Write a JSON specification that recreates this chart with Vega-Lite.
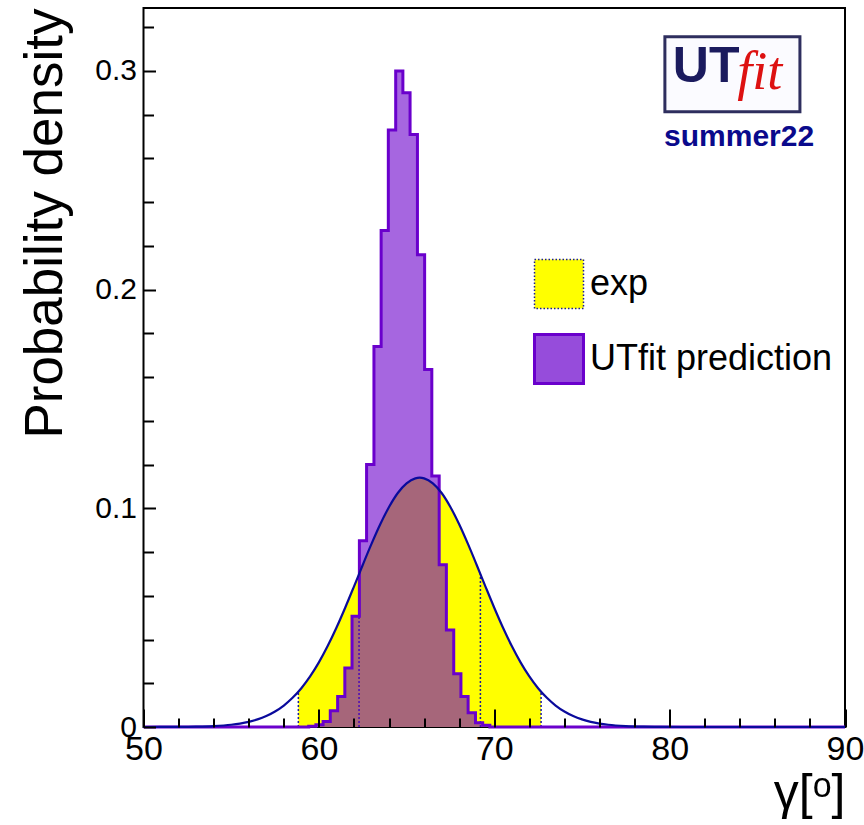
{
  "$schema": "https://vega.github.io/schema/vega-lite/v6.json",
  "width": 701.5,
  "height": 719,
  "autosize": {"type": "none"},
  "padding": {"left": 143.5, "top": 8, "right": 19, "bottom": 98},
  "background": "white",
  "config": {"view": {"stroke": "#000", "strokeWidth": 2}, "font": "Liberation Sans"},
  "datasets": {
    "hist": [
      {"x": 50, "y": 0, "series": "UTfit prediction"},
      {"x": 59.42, "y": 0.0004, "series": "UTfit prediction"},
      {"x": 59.83, "y": 0.001, "series": "UTfit prediction"},
      {"x": 60.24, "y": 0.0025, "series": "UTfit prediction"},
      {"x": 60.65, "y": 0.0074, "series": "UTfit prediction"},
      {"x": 61.07, "y": 0.014, "series": "UTfit prediction"},
      {"x": 61.48, "y": 0.027, "series": "UTfit prediction"},
      {"x": 61.89, "y": 0.0506, "series": "UTfit prediction"},
      {"x": 62.31, "y": 0.0852, "series": "UTfit prediction"},
      {"x": 62.72, "y": 0.12, "series": "UTfit prediction"},
      {"x": 63.14, "y": 0.174, "series": "UTfit prediction"},
      {"x": 63.55, "y": 0.227, "series": "UTfit prediction"},
      {"x": 63.96, "y": 0.273, "series": "UTfit prediction"},
      {"x": 64.38, "y": 0.3, "series": "UTfit prediction"},
      {"x": 64.79, "y": 0.29, "series": "UTfit prediction"},
      {"x": 65.2, "y": 0.271, "series": "UTfit prediction"},
      {"x": 65.62, "y": 0.216, "series": "UTfit prediction"},
      {"x": 66.03, "y": 0.1635, "series": "UTfit prediction"},
      {"x": 66.44, "y": 0.1148, "series": "UTfit prediction"},
      {"x": 66.86, "y": 0.0742, "series": "UTfit prediction"},
      {"x": 67.27, "y": 0.0444, "series": "UTfit prediction"},
      {"x": 67.69, "y": 0.0243, "series": "UTfit prediction"},
      {"x": 68.1, "y": 0.014, "series": "UTfit prediction"},
      {"x": 68.51, "y": 0.0065, "series": "UTfit prediction"},
      {"x": 68.93, "y": 0.002, "series": "UTfit prediction"},
      {"x": 69.34, "y": 0.0008, "series": "UTfit prediction"},
      {"x": 69.75, "y": 0, "series": "UTfit prediction"},
      {"x": 90, "y": 0, "series": "UTfit prediction"}
    ],
    "gauss": [
      {"x": 50, "y": 0}, {"x": 52, "y": 0.00005}, {"x": 53, "y": 0.00015}, {"x": 54, "y": 0.00041},
      {"x": 55, "y": 0.00102}, {"x": 55.5, "y": 0.00157}, {"x": 56, "y": 0.00235}, {"x": 56.5, "y": 0.00347},
      {"x": 57, "y": 0.00501}, {"x": 57.5, "y": 0.00709}, {"x": 58, "y": 0.00982}, {"x": 58.5, "y": 0.01334},
      {"x": 59, "y": 0.01775}, {"x": 59.5, "y": 0.02314}, {"x": 60, "y": 0.02957}, {"x": 60.5, "y": 0.03702},
      {"x": 61, "y": 0.04539}, {"x": 61.5, "y": 0.05455}, {"x": 62, "y": 0.06422}, {"x": 62.5, "y": 0.07408},
      {"x": 63, "y": 0.08372}, {"x": 63.5, "y": 0.09272}, {"x": 64, "y": 0.1006}, {"x": 64.5, "y": 0.107},
      {"x": 65, "y": 0.1114}, {"x": 65.5, "y": 0.1137}, {"x": 65.75, "y": 0.114}, {"x": 66, "y": 0.1137},
      {"x": 66.5, "y": 0.1114}, {"x": 67, "y": 0.107}, {"x": 67.5, "y": 0.1006}, {"x": 68, "y": 0.09272},
      {"x": 68.5, "y": 0.08372}, {"x": 69, "y": 0.07408}, {"x": 69.5, "y": 0.06422}, {"x": 70, "y": 0.05455},
      {"x": 70.5, "y": 0.04539}, {"x": 71, "y": 0.03702}, {"x": 71.5, "y": 0.02957}, {"x": 72, "y": 0.02314},
      {"x": 72.5, "y": 0.01775}, {"x": 73, "y": 0.01334}, {"x": 73.5, "y": 0.00982}, {"x": 74, "y": 0.00709},
      {"x": 74.5, "y": 0.00501}, {"x": 75, "y": 0.00347}, {"x": 75.5, "y": 0.00235}, {"x": 76, "y": 0.00157},
      {"x": 76.5, "y": 0.00102}, {"x": 77.5, "y": 0.00041}, {"x": 78.5, "y": 0.00015}, {"x": 79.5, "y": 0.00005},
      {"x": 81, "y": 0}, {"x": 90, "y": 0}
    ],
    "band": [
      {"x": 58.83, "y": 0.01614, "series": "exp"}, {"x": 59, "y": 0.01775, "series": "exp"},
      {"x": 59.5, "y": 0.02314, "series": "exp"}, {"x": 60, "y": 0.02957, "series": "exp"},
      {"x": 60.5, "y": 0.03702, "series": "exp"}, {"x": 61, "y": 0.04539, "series": "exp"},
      {"x": 61.5, "y": 0.05455, "series": "exp"}, {"x": 62, "y": 0.06422, "series": "exp"},
      {"x": 62.5, "y": 0.07408, "series": "exp"}, {"x": 63, "y": 0.08372, "series": "exp"},
      {"x": 63.5, "y": 0.09272, "series": "exp"}, {"x": 64, "y": 0.1006, "series": "exp"},
      {"x": 64.5, "y": 0.107, "series": "exp"}, {"x": 65, "y": 0.1114, "series": "exp"},
      {"x": 65.5, "y": 0.1137, "series": "exp"}, {"x": 65.75, "y": 0.114, "series": "exp"},
      {"x": 66, "y": 0.1137, "series": "exp"}, {"x": 66.5, "y": 0.1114, "series": "exp"},
      {"x": 67, "y": 0.107, "series": "exp"}, {"x": 67.5, "y": 0.1006, "series": "exp"},
      {"x": 68, "y": 0.09272, "series": "exp"}, {"x": 68.5, "y": 0.08372, "series": "exp"},
      {"x": 69, "y": 0.07408, "series": "exp"}, {"x": 69.5, "y": 0.06422, "series": "exp"},
      {"x": 70, "y": 0.05455, "series": "exp"}, {"x": 70.5, "y": 0.04539, "series": "exp"},
      {"x": 71, "y": 0.03702, "series": "exp"}, {"x": 71.5, "y": 0.02957, "series": "exp"},
      {"x": 72, "y": 0.02314, "series": "exp"}, {"x": 72.5, "y": 0.01775, "series": "exp"},
      {"x": 72.67, "y": 0.01614, "series": "exp"}
    ],
    "cuts": [
      {"x": 58.83, "y": 0, "top": 0.01614},
      {"x": 62.29, "y": 0, "top": 0.06994},
      {"x": 69.21, "y": 0, "top": 0.06994},
      {"x": 72.67, "y": 0, "top": 0.01614}
    ]
  },
  "encoding": {
    "x": {
      "field": "x", "type": "quantitative",
      "scale": {"domain": [50, 90], "nice": false, "zero": false},
      "axis": {
        "title": "γ[ᵒ]", "titleFont": "Liberation Sans", "titleFontSize": 50, "titleFontWeight": "normal",
        "titleColor": "#000", "titleAnchor": "end", "titleAlign": "right", "titlePadding": -7,
        "values": [50, 52, 54, 56, 58, 60, 62, 64, 66, 68, 70, 72, 74, 76, 78, 80, 82, 84, 86, 88, 90],
        "labelExpr": "datum.value % 10 === 0 ? datum.label : ''",
        "labelFont": "Liberation Sans", "labelFontSize": 34, "labelColor": "#000", "labelPadding": 23,
        "labelFlush": false, "labelOverlap": false,
        "tickSize": {"condition": {"test": "datum.value % 10 === 0", "value": -18}, "value": -9},
        "tickColor": "#000", "tickWidth": 2, "domain": false, "grid": false, "zindex": 1
      }
    },
    "y": {
      "field": "y", "type": "quantitative",
      "scale": {"domain": [0, 0.3288], "nice": false},
      "axis": {
        "title": "Probability density", "titleFont": "Liberation Sans", "titleFontSize": 53, "titleFontWeight": "normal",
        "titleColor": "#000", "titleAnchor": "end", "titlePadding": 22,
        "values": [0, 0.02, 0.04, 0.06, 0.08, 0.1, 0.12, 0.14, 0.16, 0.18, 0.2, 0.22, 0.24, 0.26, 0.28, 0.3, 0.32],
        "labelExpr": "abs(datum.value * 10 - round(datum.value * 10)) < 0.000001 ? format(datum.value, '.1~f') : ''",
        "labelFont": "Liberation Sans", "labelFontSize": 30, "labelColor": "#000", "labelPadding": 19,
        "labelFlush": false, "labelOverlap": false,
        "tickSize": {"condition": {"test": "abs(datum.value * 10 - round(datum.value * 10)) < 0.000001", "value": -12}, "value": -10},
        "tickColor": "#000", "tickWidth": 2, "domain": false, "grid": false, "zindex": 1
      }
    }
  },
  "layer": [
    {
      "data": {"name": "band"},
      "mark": {"type": "area", "interpolate": "monotone", "fillOpacity": 1},
      "encoding": {
        "color": {
          "field": "series", "type": "nominal",
          "scale": {"domain": ["exp", "UTfit prediction"], "range": ["#ffff00", "#6a00cc"]},
          "legend": {
            "title": null, "orient": "none", "legendX": 397.5, "legendY": 258, "padding": 0,
            "symbolType": "square", "symbolSize": 2400, "labelFont": "Liberation Sans", "labelFontSize": 36,
            "labelColor": "#000", "labelOffset": 13, "rowPadding": 16, "labelLimit": 400,
            "symbolOpacity": 1,
            "encode": {"symbols": {"update": {
              "fill": {"signal": "datum.value === 'exp' ? '#ffff00' : '#9350e0'"},
              "fillOpacity": {"signal": "datum.value === 'exp' ? 1 : 0.7"},
              "opacity": {"value": 1},
              "stroke": {"signal": "datum.value === 'exp' ? '#1a1a9a' : '#6a00cc'"},
              "strokeWidth": {"signal": "datum.value === 'exp' ? 1.5 : 3"},
              "strokeDash": {"signal": "datum.value === 'exp' ? [1.5, 2] : [1, 0]"}
            }}}
          }
        }
      }
    },
    {
      "data": {"name": "cuts"},
      "mark": {"type": "rule", "color": "#1a1a9a", "strokeWidth": 1.5, "strokeDash": [2, 2]},
      "encoding": {"y2": {"field": "top"}}
    },
    {
      "data": {"name": "hist"},
      "mark": {"type": "area", "interpolate": "step-after", "fillOpacity": 0.6},
      "encoding": {
        "color": {
          "field": "series", "type": "nominal",
          "scale": {"domain": ["exp", "UTfit prediction"], "range": ["#ffff00", "#6a00cc"]}
        }
      }
    },
    {
      "data": {"name": "hist"},
      "mark": {"type": "line", "interpolate": "step-after", "color": "#6a00cc", "strokeWidth": 3},
      "encoding": {}
    },
    {
      "data": {"name": "gauss"},
      "mark": {"type": "line", "interpolate": "monotone", "color": "#0a0a9c", "strokeWidth": 2.2},
      "encoding": {}
    },
    {
      "data": {"values": [{"x": 79.73, "x2": 87.43, "y": 0.3156, "y2": 0.2813}]},
      "mark": {"type": "rect", "fill": "#fbfbff", "stroke": "#2e2e5e", "strokeWidth": 3},
      "encoding": {"x2": {"field": "x2"}, "y2": {"field": "y2"}}
    },
    {
      "data": {"values": [{"x": 80.18, "y": 0.295, "t": "UT"}]},
      "mark": {"type": "text", "align": "left", "baseline": "alphabetic", "font": "Liberation Sans", "fontWeight": "bold", "fontSize": 50, "color": "#1b1b5e"},
      "encoding": {"text": {"field": "t"}}
    },
    {
      "data": {"values": [{"x": 83.85, "y": 0.2918, "t": "fit"}]},
      "mark": {"type": "text", "align": "left", "baseline": "alphabetic", "font": "Liberation Serif", "fontStyle": "italic", "fontSize": 54, "color": "#dd1111"},
      "encoding": {"text": {"field": "t"}}
    },
    {
      "data": {"values": [{"x": 83.96, "y": 0.2658, "t": "summer22"}]},
      "mark": {"type": "text", "align": "center", "baseline": "alphabetic", "font": "Liberation Sans", "fontWeight": "bold", "fontSize": 30, "color": "#0a0a8c"},
      "encoding": {"text": {"field": "t"}}
    }
  ]
}
